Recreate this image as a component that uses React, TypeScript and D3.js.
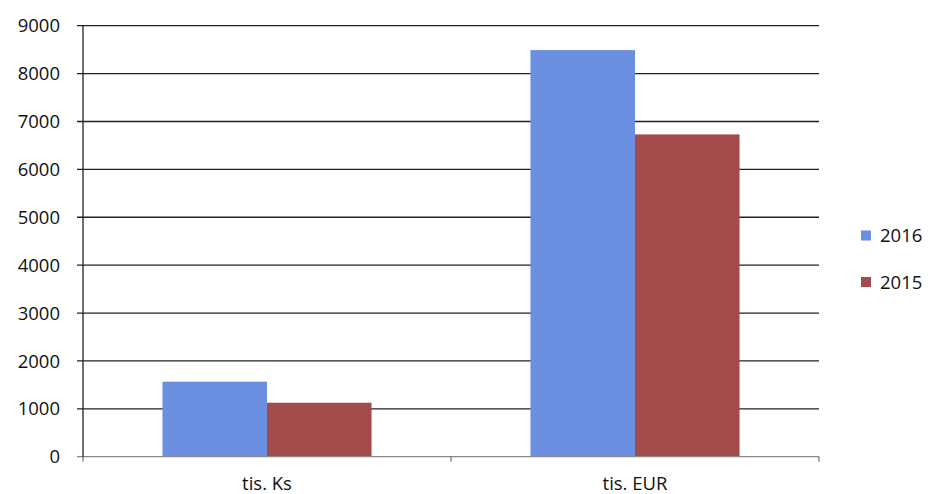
import React from "react";
import * as d3 from "d3";

const categories = ["tis. Ks", "tis. EUR"];
const seriesNames = ["2016", "2015"];
const values2016 = [1566, 8490];
const values2015 = [1127, 6730];
const yTicks = [0, 1000, 2000, 3000, 4000, 5000, 6000, 7000, 8000, 9000];
const colors = ["#6A8EE0", "#A34B4B"];

export default function App() {
  const W = 930, H = 494;
  const left = 83, right = 819, top = 25.7, bottom = 456.7;
  const x = d3.scaleBand<string>().domain(categories).range([left, right]).paddingInner(0).paddingOuter(0);
  const y = d3.scaleLinear().domain([0, 9000]).range([bottom, top]);
  const inner = d3.scaleBand<string>().domain(seriesNames).range([0, x.bandwidth()]).paddingInner(0).paddingOuter(0.76);
  const series = [values2016, values2015];
  const font = "'Open Sans', sans-serif";
  const fs = 18.5;
  const legendY = [235.5, 282];
  return (
    <svg width={W} height={H} style={{ position: "absolute", left: 0, top: 0, background: "#fff" }}>
      {yTicks.map((t) => (
        <g key={t}>
          <line x1={77} x2={t === 0 ? left : right} y1={y(t)} y2={y(t)} stroke={t === 0 ? "#888" : "#222"} strokeWidth={1.3} />
          <text x={60} y={y(t)} dy="0.36em" textAnchor="end" fontFamily={font} fontSize={fs} fill="#111">{t}</text>
        </g>
      ))}
      {categories.map((c, ci) =>
        series.map((vals, si) => (
          <rect key={c + si} x={(x(c) as number) + (inner(seriesNames[si]) as number)} width={inner.bandwidth()} y={y(vals[ci])} height={bottom - y(vals[ci])} fill={colors[si]} />
        ))
      )}
      <line x1={left} x2={right} y1={bottom} y2={bottom} stroke="#888" strokeWidth={1.3} />
      {[left, left + x.bandwidth(), right].map((px) => (
        <line key={px} x1={px} x2={px} y1={bottom} y2={bottom + 5} stroke="#555" strokeWidth={1} />
      ))}
      <line x1={left} x2={left} y1={top} y2={bottom} stroke="#222" strokeWidth={1.3} />
      {categories.map((c) => (
        <text key={c} x={(x(c) as number) + x.bandwidth() / 2} y={490} textAnchor="middle" fontFamily={font} fontSize={fs} fill="#111">{c}</text>
      ))}
      {seriesNames.map((s, i) => (
        <g key={s}>
          <rect x={861} y={legendY[i] - 5} width={10} height={10} fill={colors[i]} />
          <text x={880} y={legendY[i]} dy="0.36em" fontFamily={font} fontSize={fs} fill="#111">{s}</text>
        </g>
      ))}
    </svg>
  );
}
